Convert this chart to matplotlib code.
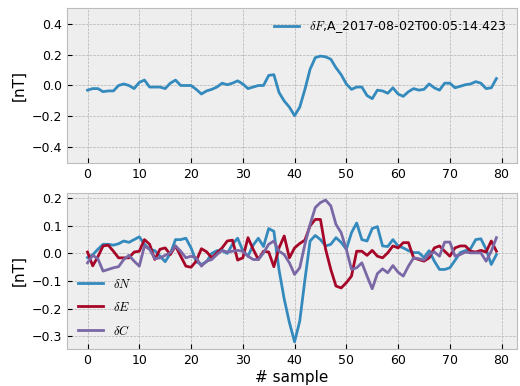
import numpy as np
import matplotlib
matplotlib.use("Agg")
import matplotlib.pyplot as plt
from matplotlib.ticker import MultipleLocator

plt.style.use('bmh')
plt.rcParams['mathtext.fontset'] = 'cm'
plt.rcParams['xtick.labelsize'] = 9
plt.rcParams['ytick.labelsize'] = 9

# === VALUES ===
label_F = r'$\delta F$,A_2017-08-02T00:05:14.423'

dF = [-0.03, -0.02, -0.02, -0.04, -0.035, -0.035, 0.0, 0.01, 0.0, -0.02,
      0.02, 0.035, -0.01, -0.01, -0.01, -0.02, 0.015, 0.035, 0.0, 0.0,
      0.0, -0.025, -0.055, -0.035, -0.025, -0.01, 0.015, 0.005, 0.015, 0.03,
      0.01, -0.02, -0.01, 0.0, 0.0, 0.065, 0.07, -0.045, -0.1, -0.14,
      -0.195, -0.14, -0.025, 0.105, 0.18, 0.19, 0.185, 0.17, 0.115, 0.07,
      0.01, -0.025, -0.01, -0.01, -0.065, -0.085, -0.03, -0.035, -0.05, -0.015,
      -0.055, -0.07, -0.04, -0.02, -0.03, -0.025, 0.01, -0.015, -0.03, 0.015,
      0.015, -0.015, -0.005, 0.005, 0.01, 0.025, 0.015, -0.02, -0.015, 0.045]

dN = [-0.015, -0.005, 0.015, 0.033, 0.033, 0.03, 0.035, 0.045, 0.04, 0.05,
      0.06, 0.033, 0.015, 0.01, -0.01, -0.03, 0.0, 0.05, 0.05, 0.055,
      0.02, -0.03, -0.04, -0.03, 0.0, 0.01, 0.01, 0.0, 0.033, 0.055,
      0.01, -0.01, 0.03, 0.055, 0.025, 0.09, 0.08, -0.06, -0.165, -0.25,
      -0.32, -0.245, -0.095, 0.045, 0.065, 0.05, 0.027, 0.033, 0.057, 0.04,
      0.015, 0.075, 0.11, 0.05, 0.045, 0.09, 0.097, 0.027, 0.025, 0.05,
      0.027, 0.02, 0.01, 0.003, 0.003, -0.015, 0.01, -0.028, -0.058, -0.058,
      -0.052, -0.025, 0.003, 0.01, 0.017, 0.05, 0.053, 0.015, -0.04, -0.004]

dE = [0.005, -0.045, -0.012, 0.027, 0.03, 0.008, -0.016, -0.016, -0.016, 0.005,
      0.008, 0.05, 0.033, -0.022, 0.015, 0.02, -0.004, 0.027, -0.01, -0.046,
      -0.05, -0.028, 0.017, 0.006, -0.016, 0.002, 0.02, 0.045, 0.048, -0.024,
      -0.016, 0.057, 0.015, -0.022, 0.008, 0.005, -0.048, 0.02, 0.063, -0.016,
      0.02, 0.036, 0.048, 0.1, 0.123, 0.123, 0.015, -0.058, -0.118, -0.125,
      -0.106, -0.082, 0.008, 0.008, -0.007, 0.011, -0.01, -0.016, 0.002, 0.027,
      0.02, 0.039, 0.039, -0.016, -0.022, -0.028, -0.016, 0.02, 0.027, 0.008,
      -0.01, 0.02, 0.027, 0.027, 0.008, 0.005, 0.011, 0.005, 0.045, 0.008]

dC = [-0.034, -0.007, -0.019, -0.064, -0.058, -0.052, -0.048, -0.022, -0.007, -0.028,
      -0.046, 0.027, 0.015, -0.019, -0.016, -0.007, 0.002, 0.027, 0.008, -0.016,
      -0.01, -0.016, -0.046, -0.028, -0.022, -0.004, 0.011, 0.005, 0.008, 0.011,
      0.008, -0.01, -0.022, -0.022, 0.002, 0.033, 0.045, 0.008, -0.004, -0.034,
      -0.076, -0.052, 0.033, 0.105, 0.166, 0.184, 0.193, 0.172, 0.105, 0.075,
      0.015, -0.058, -0.052, -0.034, -0.082, -0.128, -0.073, -0.056, -0.07, -0.044,
      -0.068, -0.082, -0.046, -0.016, -0.019, -0.024, -0.004, 0.005, -0.01, 0.041,
      0.041, -0.01, -0.004, 0.005, 0.002, 0.002, 0.002, -0.028, 0.008, 0.057]

sample = np.arange(len(dF))

# === PLOT ===
fig = plt.figure(figsize=(5.2, 3.86), dpi=100)
ax1 = fig.add_axes([0.129, 0.578, 0.865, 0.401])
ax2 = fig.add_axes([0.129, 0.096, 0.865, 0.404])

ax1.plot(sample, dF, label=label_F)
ax1.set_ylim(-0.5, 0.5)
ax1.set_ylabel('[nT]', fontsize=11)
ax1.legend(loc='upper right', frameon=False, fontsize=9)

ax2.plot(sample, dN, label=r'$\delta N$')
ax2.plot(sample, dE, label=r'$\delta E$')
ax2.plot(sample, dC, label=r'$\delta C$')
ax2.yaxis.set_major_locator(MultipleLocator(0.1))
ax2.set_ylabel('[nT]', fontsize=11)
ax2.set_xlabel('# sample', fontsize=11, labelpad=2)
ax2.legend(loc='lower left', frameon=False, fontsize=9, labelspacing=0.8)

fig.savefig('out.png', dpi=100)
